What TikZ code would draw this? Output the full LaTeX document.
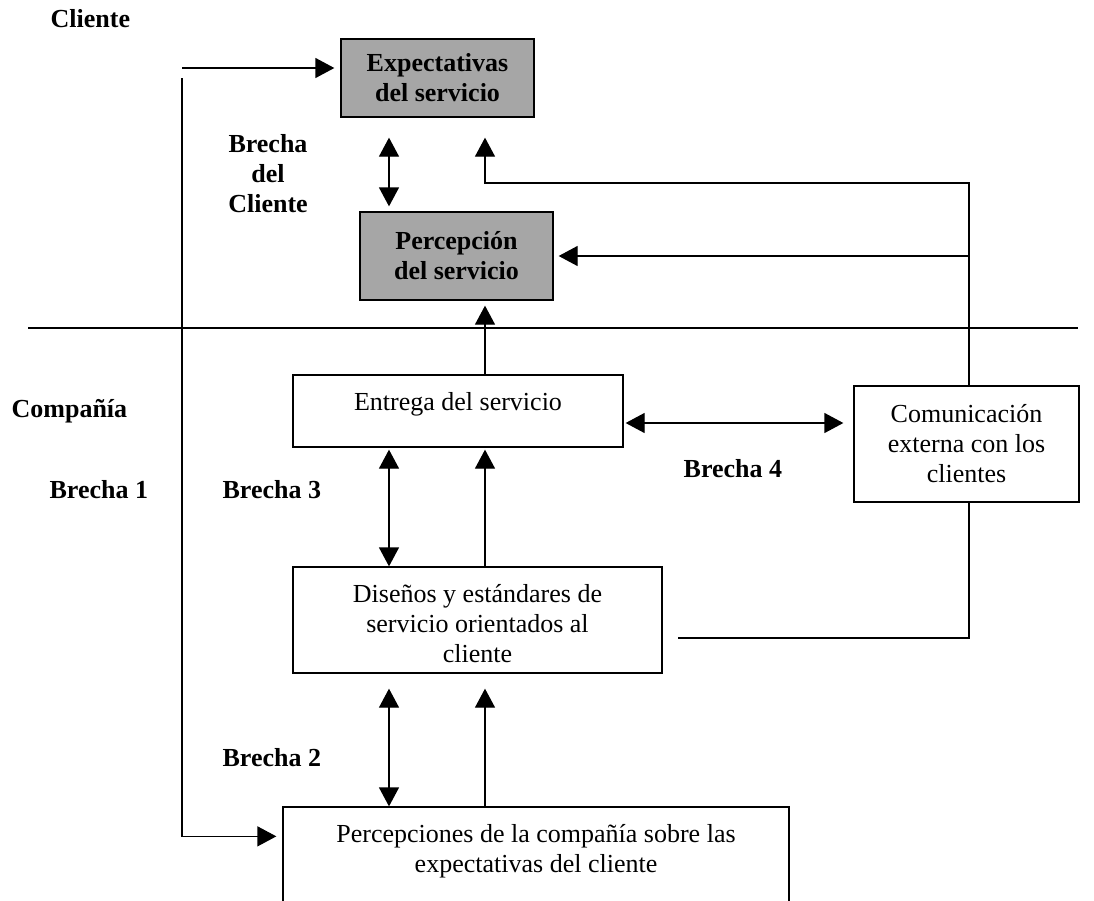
\documentclass[tikz,border=0pt]{standalone}
\usepackage{fontspec}
\setmainfont{Liberation Serif}
\usetikzlibrary{arrows.meta,calc}
\definecolor{boxgray}{RGB}{166,166,166}
\begin{document}
\begin{tikzpicture}[x=1pt,y=-1pt,
  line width=1.3pt,
  tip/.style={-{Triangle[length=19pt,width=20pt]}},
  dtip/.style={{Triangle[length=19pt,width=20pt]}-{Triangle[length=19pt,width=20pt]}},
  box/.style={draw, line width=1.3pt, inner sep=0pt, align=center, font=\fontsize{26}{30}\selectfont},
  gbox/.style={box, fill=boxgray, font=\fontsize{26}{30}\selectfont\bfseries},
  txt/.style={inner sep=0pt, align=center, font=\fontsize{26}{30}\selectfont},
  lbl/.style={inner sep=0pt, align=center, font=\fontsize{26}{30}\selectfont\bfseries},
]
\useasboundingbox[fill=white] (0,0) rectangle (1094,900);
\clip (0,0) rectangle (1094,900);

% boxes
\node[gbox, minimum width=193pt, minimum height=78pt] (exp) at (437.5,78) {Expectativas\\del servicio};
\node[gbox, minimum width=193pt, minimum height=88pt] (per) at (456.5,256) {Percepción\\del servicio};
\node[box, minimum width=330pt, minimum height=72pt] (ent) at (458,411) {};
\node[txt, anchor=base] (entt) at (458,410) {Entrega del servicio};
\node[box, minimum width=225pt, minimum height=116pt] (com) at (966.5,444) {Comunicación\\externa con los\\clientes};
\node[box, minimum width=369pt, minimum height=106pt] (dis) at (477.5,620) {};
\node[txt] (dist) at (477.5,624) {Diseños y estándares de\\servicio orientados al\\cliente};
\node[box, minimum width=506pt, minimum height=120pt] (pco) at (536,867) {};
\node[txt] (pcot) at (536,851) {Percepciones de la compañía sobre las\\expectativas del cliente};

% labels
\node[lbl, anchor=base west] (lcli) at (50,27) {Cliente};
\node[lbl] (lbc) at (268,174) {Brecha\\del\\Cliente};
\node[lbl, anchor=base west] (lcom) at (11,417) {Compañía};
\node[lbl, anchor=base west] (lb1) at (49,498) {Brecha 1};
\node[lbl, anchor=base west] (lb3) at (222,498) {Brecha 3};
\node[lbl, anchor=base west] (lb4) at (683,477) {Brecha 4};
\node[lbl, anchor=base west] (lb2) at (222,766) {Brecha 2};

% helper coordinates
\coordinate (xa) at (389,0);
\coordinate (xb) at (485,0);
\coordinate (s1) at (28,328);
\coordinate (s2) at (1078,328);
\coordinate (a1) at (182,68);
\coordinate (a2) at (182,78);
\coordinate (k1) at (969,183);

% separator
\draw (s1) -- (s2);

% left route (Brecha 1)
\draw[tip, shorten >=6pt] (a1) -- (exp.west |- a1);
\draw[tip, shorten >=6pt] (a2) |- ($(pco.north west)+(0,30)$);

% customer gap
\draw[dtip, shorten <=20pt, shorten >=5pt] (exp.south -| xa) -- (per.north -| xa);

% external communication
\draw[tip, shorten >=20pt] (com.north -| k1) -- (k1) -| (exp.south -| xb);
\draw[tip, shorten >=5pt] (k1 |- per.east) -- (per.east);
\draw (com.south -| k1) |- ($(dis.east)+(15,18)$);

% delivery
\draw[tip, shorten >=5pt] (ent.north -| xb) -- (per.south -| xb);
\draw[dtip, shorten <=2pt, shorten >=10pt] ($(ent.east)+(0,12)$) -- ($(com.west |- ent.east)+(0,12)$);

% gap 3
\draw[dtip, shorten <=2pt] (ent.south -| xa) -- (dis.north -| xa);
\draw[tip, shorten >=2pt] (dis.north -| xb) -- (ent.south -| xb);

% gap 2
\draw[dtip, shorten >=15pt] (pco.north -| xa) -- (dis.south -| xa);
\draw[tip, shorten >=15pt] (pco.north -| xb) -- (dis.south -| xb);
\end{tikzpicture}
\end{document}
